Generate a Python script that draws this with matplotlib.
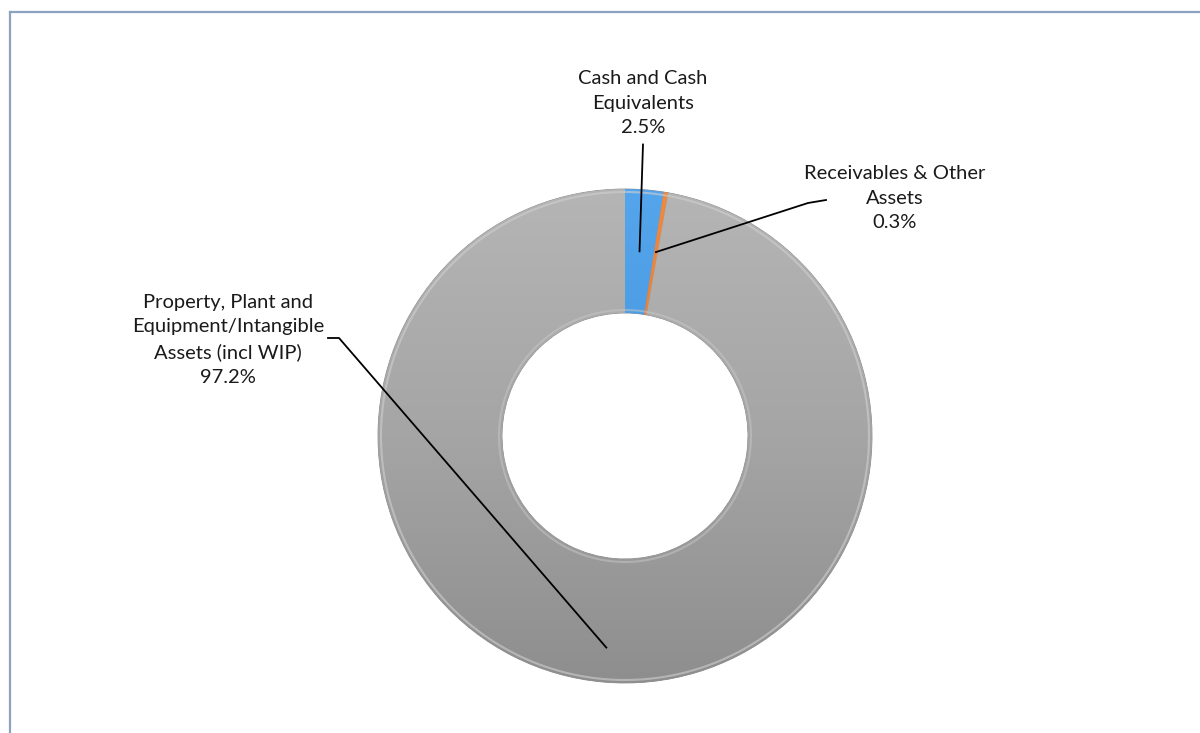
import numpy as np
import matplotlib.pyplot as plt
from matplotlib.colors import LinearSegmentedColormap

# asset mix
categories = [
    "Cash and Cash\nEquivalents",
    "Receivables & Other\nAssets",
    "Property, Plant and\nEquipment/Intangible\nAssets (incl WIP)",
]
shares = [2.5, 0.3, 97.2]
colors = ["#4494dc", "#ed7d31", "#a6a6a6"]

# label anchor (text centre) and leader elbow, in pixel coordinates (y up)
label_pos = [(643, 630), (895, 535), (228, 393)]
leader_elbow = [None, (808, 530), (339, 395)]
leader_depth = [0.75, 0.755, 0.86]

W, H = 1200, 733
cx, cy = 625, 297
R = 247
ring = 124

fig = plt.figure(figsize=(12, 7.33), dpi=100)
ax = fig.add_axes([0, 0, 1, 1])
ax.set_xlim(0, W)
ax.set_ylim(0, H)
ax.axis("off")

wedges, _ = ax.pie(
    shares,
    colors=colors,
    startangle=90,
    counterclock=False,
    radius=R,
    center=(cx, cy),
    wedgeprops=dict(width=ring, edgecolor="#8c8c8c", linewidth=0.6),
)
ax.set_xlim(0, W)
ax.set_ylim(0, H)

# soft vertical shading on each slice
yy = np.linspace(0, 1, 256).reshape(-1, 1)
shade_maps = {
    0: ["#3a8ad2", "#55a5ec"],
    1: ["#d8691f", "#f08a40"],
    2: ["#8e8e8e", "#a5a5a5", "#b5b5b5"],
}
for i, w in enumerate(wedges):
    cmap = LinearSegmentedColormap.from_list("s%d" % i, shade_maps[i])
    im = ax.imshow(
        yy, cmap=cmap, origin="lower", aspect="auto",
        extent=(cx - R, cx + R, cy - R, cy + R), zorder=w.get_zorder() + 0.1,
    )
    im.set_clip_path(w)

# bevel highlight along the rims
theta = np.linspace(0, 2 * np.pi, 400)
ax.plot(cx + (R - 3) * np.cos(theta), cy + (R - 3) * np.sin(theta),
        color="#d0d0d0", lw=1.5, alpha=0.6, zorder=5)
ax.plot(cx + (R - ring + 3) * np.cos(theta), cy + (R - ring + 3) * np.sin(theta),
        color="#c8c8c8", lw=1.5, alpha=0.5, zorder=5)

# labels with leader lines into the slices
for w, name, pct, pos, elbow, depth in zip(
    wedges, categories, shares, label_pos, leader_elbow, leader_depth
):
    mid = np.deg2rad((w.theta1 + w.theta2) / 2)
    tip = (cx + depth * R * np.cos(mid), cy + depth * R * np.sin(mid))
    ax.text(pos[0], pos[1], "%s\n%.1f%%" % (name, pct), ha="center", va="center",
            fontsize=14.5, family="Lato", color="#1a1a1a", linespacing=1.55, zorder=6)
    n_lines = name.count("\n") + 2
    if elbow is None:
        start = (pos[0], pos[1] - n_lines * 12.5 - 4)
        xs, ys = [start[0], tip[0]], [start[1], tip[1]]
    elif pos[0] > cx:
        xs, ys = [pos[0] - 69, elbow[0], tip[0]], [pos[1] - 2, elbow[1], tip[1]]
    else:
        xs, ys = [pos[0] + 100, elbow[0], tip[0]], [elbow[1], elbow[1], tip[1]]
    ax.plot(xs, ys, color="black", lw=1.3, zorder=7)

# frame edges
ax.plot([10, 10], [0, H - 12], color="#8da2c0", lw=1.6, zorder=8)
ax.plot([10, W], [H - 12, H - 12], color="#8da2c0", lw=1.6, zorder=8)

fig.savefig("out.png", dpi=100)
plt.close(fig)
